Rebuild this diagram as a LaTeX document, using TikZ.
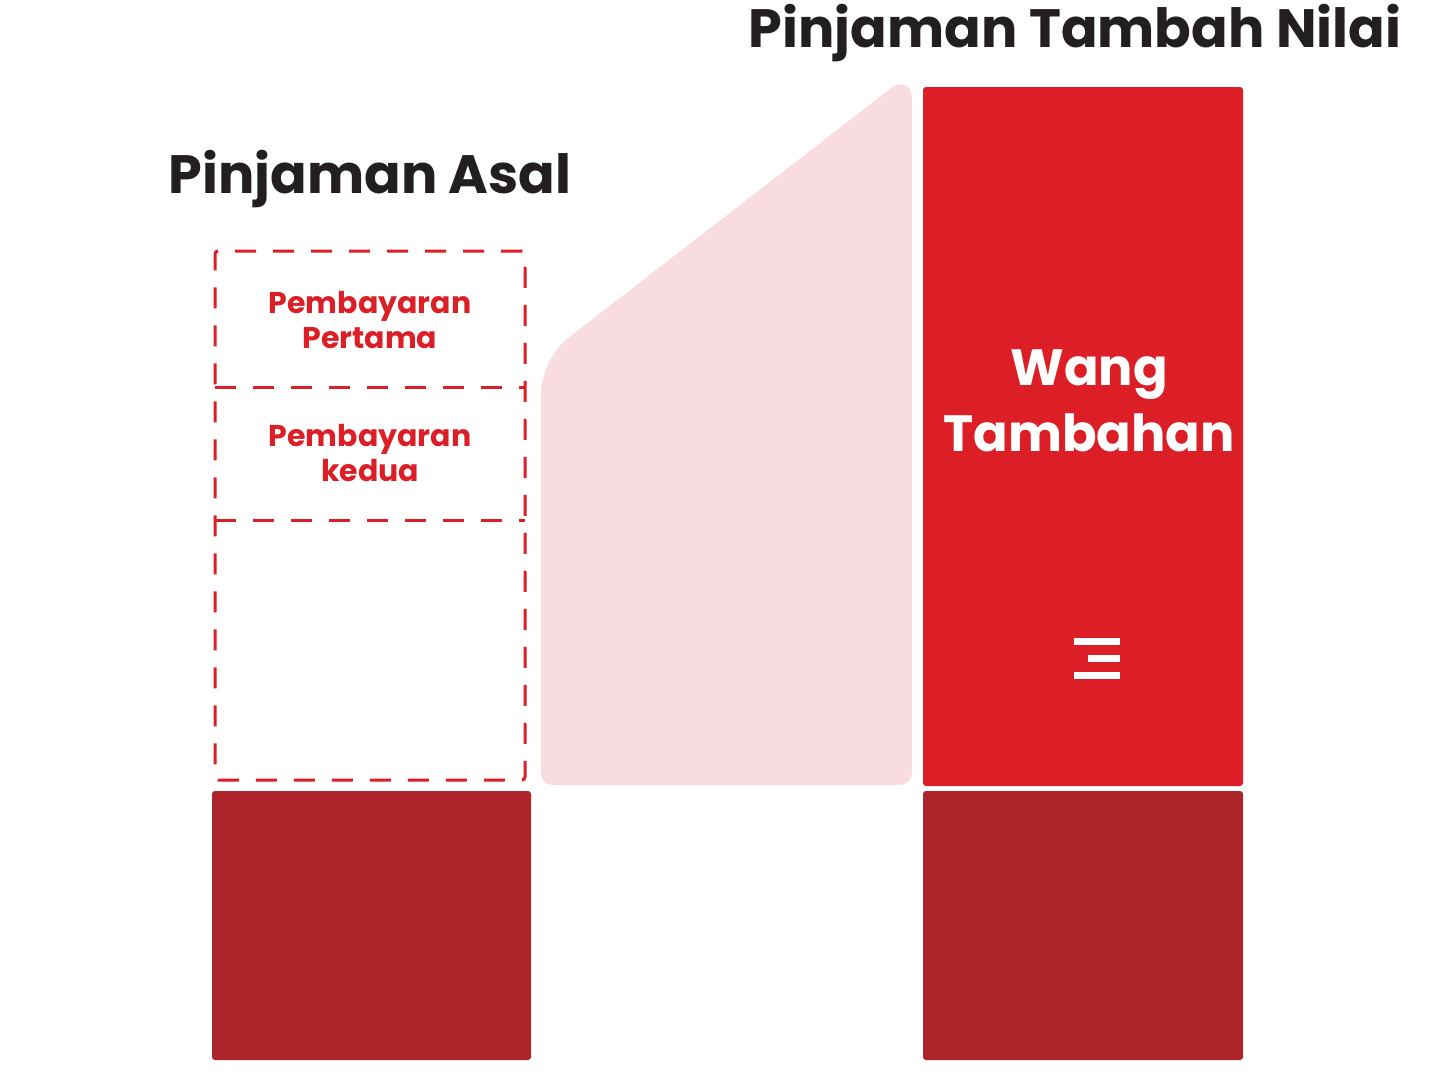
\documentclass[tikz,border=0pt]{standalone}
\usepackage{fontspec}
\setmainfont{Poppins}
\usetikzlibrary{positioning}

\definecolor{merah}{HTML}{DC1F26}
\definecolor{merahtua}{HTML}{AD252B}
\definecolor{merahjambu}{HTML}{F9DCE0}
\definecolor{kelabu}{HTML}{231F20}

\begin{document}
\begin{tikzpicture}[x=1pt,y=-1pt,
  box/.style={inner sep=0pt,outer sep=0pt,rounded corners=3pt},
  dash line/.style={draw=merah,line width=3pt,dash pattern=on 21pt off 17pt},
  title/.style={text=kelabu,font=\fontsize{54}{60}\selectfont\bfseries},
  small label/.style={text=merah,align=center,font=\fontsize{30}{35}\selectfont\bfseries},
  big label/.style={text=white,align=center,font=\fontsize{51}{66}\selectfont\bfseries},
  bar/.style={fill=white}]

  \useasboundingbox (0,0) rectangle (1452,1074);

  % pinjaman asal
  \node[box,dash line,minimum width=310pt,minimum height=529pt] (asal) at (370,515.5) {};
  \node[box,fill=merahtua,minimum width=319pt,minimum height=269pt] (bakiasal) at (371.5,925.5) {};
  \node[title] (tajukasal) [above=40pt of asal] {Pinjaman Asal};
  \node[small label] (bayar1) at (370,320) {Pembayaran\\Pertama};
  \node[small label] (bayar2) at (370,453) {Pembayaran\\kedua};
  \coordinate (garis1) at (asal.west|-0,387);
  \coordinate (garis2) at (asal.west|-0,520);

  \path[dash line]
    (garis1) edge (garis1-|asal.east)
    (garis2) edge (garis2-|asal.east);

  % pinjaman tambah nilai
  \fill[merahjambu] (726,785) [rounded corners=12pt] -- (541,785) [rounded corners=34pt]
    -- (541,359) [rounded corners=28pt] -- (912,72) [rounded corners=12pt] -- (912,785) -- cycle;
  \node[box,fill=merah,minimum width=320pt,minimum height=699pt] (tambahan) at (1083,436.5) {};
  \node[box,fill=merahtua,minimum width=320pt,minimum height=269pt] (bakibaru) at (1083,925.5) {};
  \node[title] (tajukbaru) at (1075,33) {Pinjaman Tambah Nilai};
  \node[big label] (wang) at (1089,401) {Wang\\Tambahan};

  \node[bar,minimum width=46pt,minimum height=7pt,inner sep=0pt] (bar1) at (1097,641.5) {};
  \node[bar,minimum width=32pt,minimum height=7pt,inner sep=0pt] (bar2) at (1104,658.5) {};
  \node[bar,minimum width=46pt,minimum height=7pt,inner sep=0pt] (bar3) at (1097,675.5) {};

\end{tikzpicture}
\end{document}
